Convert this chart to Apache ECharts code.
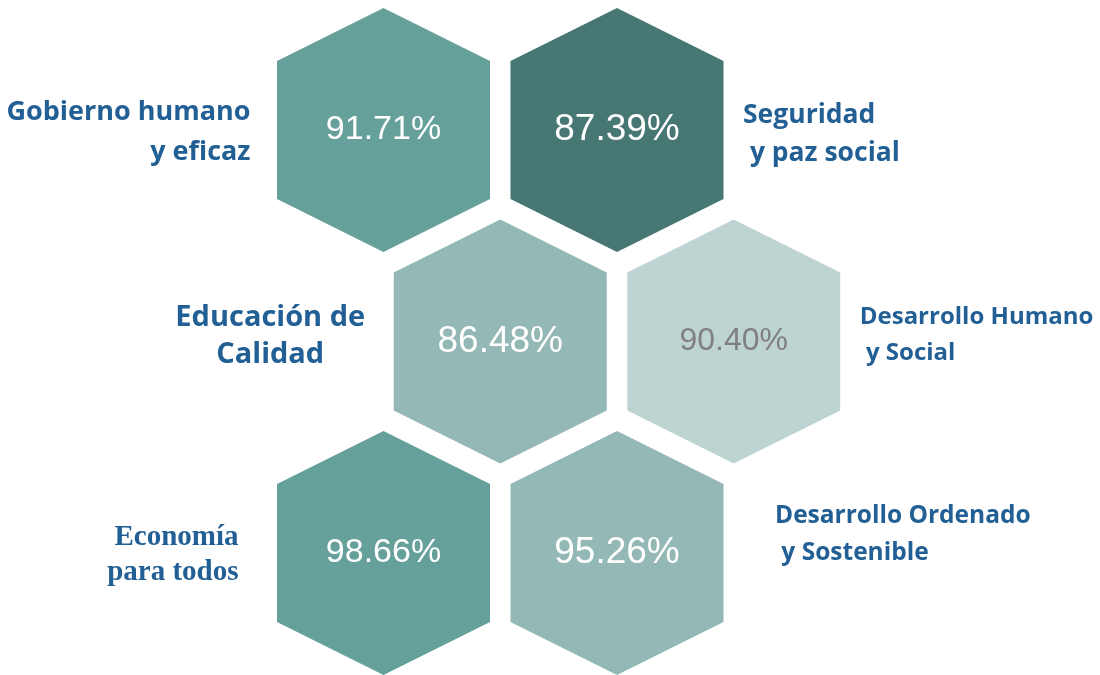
<!DOCTYPE html>
<html>
<head>
<meta charset="utf-8">
<title>Hexágonos</title>
<script src="https://cdn.jsdelivr.net/npm/echarts@6.0.0/dist/echarts.min.js"></script>
<style>
  html, body { margin: 0; padding: 0; background: #fff; }
  #chart { width: 1100px; height: 675px; }
</style>
</head>
<body>
<div id="chart"></div>
<script>
// data
const categories = [
  "Gobierno humano\ny eficaz",
  "Seguridad\n y paz social",
  "Educación de\nCalidad",
  "Desarrollo Humano\n y Social",
  "Economía\npara todos",
  "Desarrollo Ordenado\n y Sostenible"
];
const values = [91.71, 87.39, 86.48, 90.4, 98.66, 95.26];
// honeycomb slot of each hexagon (column, row)
const slotCol = [0, 1, 0.5, 1.5, 0, 1];
const slotRow = [0, 0, 1, 1, 2, 2];

// styles
const hexColors = ["#66a09b", "#477773", "#93b8b5", "#bed4d3", "#66a09b", "#93b8b5"];
const pctColors = ["#fff", "#fff", "#fff", "#808080", "#fff", "#fff"];
const pctSizes = [34, 37, 37, 32, 34, 37];
const labelStyles = [
  { dx: -133, dy: 2, align: "right", size: 27, lh: 40, family: "Open Sans" },
  { dx: 126, dy: 4, align: "left", size: 26.5, lh: 38, family: "Open Sans" },
  { dx: -230, dy: -5, align: "center", size: 29, lh: 37, family: "Open Sans" },
  { dx: 126, dy: -6, align: "left", size: 24, lh: 36, family: "Open Sans" },
  { dx: -145, dy: 2, align: "right", size: 29, lh: 35, family: "Liberation Serif" },
  { dx: 158, dy: -18, align: "left", size: 24.5, lh: 37, family: "Open Sans" }
];
const labelColor = "#215f94";

// pixel geometry of the honeycomb
const colStep = 233.5, rowStep = 211.5, x0 = 383.5, y0 = 130;
const halfW = 106.5, tipH = 122, sideH = 69;
const W = 1100, H = 675;

const chart = echarts.init(document.getElementById("chart"));

const seriesData = values.map((v, i) => [slotCol[i], slotRow[i], v, i]);

chart.setOption({
  animation: false,
  backgroundColor: "#fff",
  grid: { left: 0, right: 0, top: 0, bottom: 0 },
  xAxis: { type: "value", show: false, min: -x0 / colStep, max: (W - x0) / colStep },
  yAxis: { type: "value", show: false, inverse: true, min: -y0 / rowStep, max: (H - y0) / rowStep },
  series: [
    {
      type: "custom",
      coordinateSystem: "cartesian2d",
      data: seriesData,
      renderItem: (params, api) => {
        const i = api.value(3);
        const [cx, cy] = api.coord([api.value(0), api.value(1)]);
        const ls = labelStyles[i];
        return {
          type: "group",
          children: [
            {
              type: "polygon",
              shape: {
                points: [
                  [cx, cy - tipH],
                  [cx + halfW, cy - sideH],
                  [cx + halfW, cy + sideH],
                  [cx, cy + tipH],
                  [cx - halfW, cy + sideH],
                  [cx - halfW, cy - sideH]
                ]
              },
              style: { fill: hexColors[i] }
            },
            {
              type: "text",
              x: cx,
              y: cy,
              style: {
                text: api.value(2).toFixed(2) + "%",
                fill: pctColors[i],
                fontFamily: "Liberation Sans",
                fontSize: pctSizes[i],
                align: "center",
                verticalAlign: "middle"
              }
            },
            {
              type: "text",
              x: cx + ls.dx,
              y: cy + ls.dy,
              style: {
                text: categories[i],
                fill: labelColor,
                fontFamily: ls.family,
                fontWeight: "bold",
                fontSize: ls.size,
                lineHeight: ls.lh,
                align: ls.align,
                verticalAlign: "middle"
              }
            }
          ]
        };
      }
    }
  ]
});
</script>
</body>
</html>
